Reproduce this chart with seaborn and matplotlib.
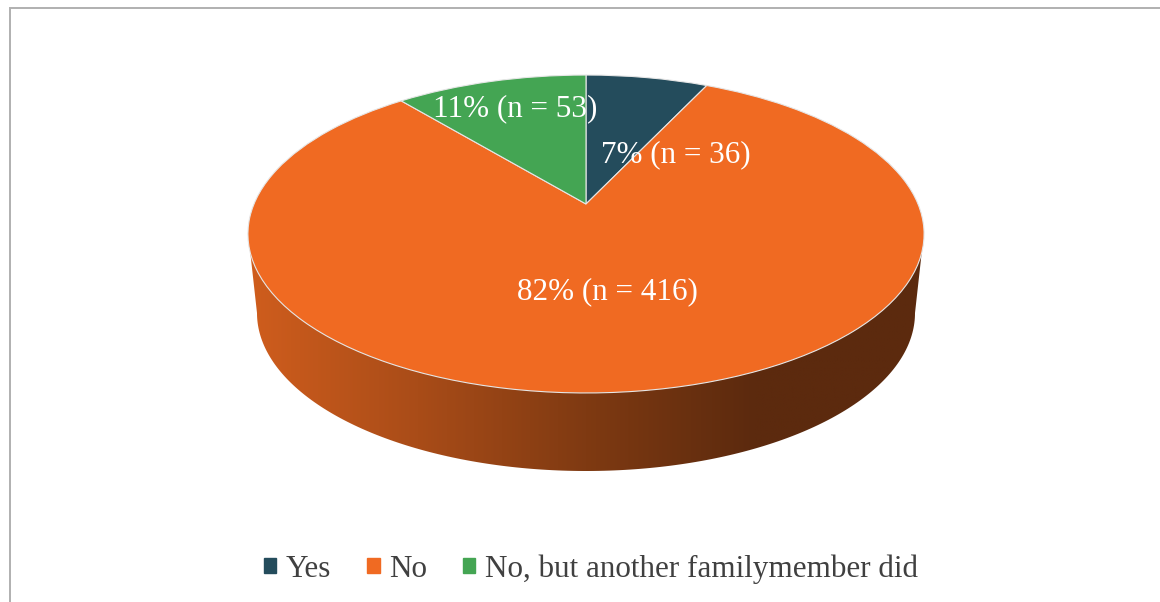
import numpy as np
import matplotlib
matplotlib.use("Agg")
import matplotlib.pyplot as plt
import matplotlib.patches as mpatches
from matplotlib.colors import LinearSegmentedColormap
from matplotlib.transforms import Transform
import seaborn as sns

categories = ["Yes", "No", "No, but another familymember did"]
counts = [36, 416, 53]
percents = [7, 82, 11]
colors = ["#244c5c", "#f06a22", "#44a553"]

sns.set_theme(style="white")
plt.rcParams["font.family"] = ["Liberation Serif", "DejaVu Serif"]


class Tilt(Transform):
    # projects the unit pie onto the tilted disc, output in image pixels
    input_dims = output_dims = 2

    def transform_non_affine(self, values):
        u, v = values[:, 0], values[:, 1]
        w = 1 + 0.1887 * v
        return np.column_stack((586 + 332 * u / w, 204 - 153.3 * v / w))


fig = plt.figure(figsize=(11.6, 6.02), dpi=100, facecolor="white")
ax = fig.add_axes([0, 0, 1, 1])

# side wall, shaded from left to right
theta = np.linspace(0, np.pi, 200)
wall = np.vstack((
    [[250, 250], [922, 250]],
    np.column_stack((586 + 329 * np.cos(theta), 313 + 158 * np.sin(theta))),
))
shade = LinearSegmentedColormap.from_list("wall", ["#cf5d1d", "#a94c18", "#7f3a12", "#5c2a0e", "#5c2a0e"])
im = ax.imshow(np.linspace(0, 1, 256)[None, :], cmap=shade, extent=(250, 922, 471, 250), aspect="auto")
im.set_clip_path(mpatches.Polygon(wall, closed=True, transform=ax.transData))

ax.pie(
    percents,
    colors=colors,
    startangle=90,
    counterclock=False,
    wedgeprops=dict(transform=Tilt() + ax.transData, edgecolor="#e6e6e6", linewidth=0.8),
)

ax.set_aspect("auto")
ax.set_xlim(0, 1160)
ax.set_ylim(602, 0)
ax.axis("off")

label_spots = [(676, 155), (607, 292), (515, 109)]
for (x, y), pct, n in zip(label_spots, percents, counts):
    ax.text(x, y, f"{pct}% (n = {n})", color="white", fontsize=22.4, ha="center", va="center")

# chart frame, only left and top show in the crop
ax.plot([9.5, 9.5, 1160], [602, 7.5, 7.5], color="#b0b0b0", linewidth=1.4, solid_joinstyle="miter")

handles = [mpatches.Patch(color=c, label=name) for c, name in zip(colors, categories)]
ax.legend(
    handles=handles,
    loc="center",
    bbox_to_anchor=(591, 569),
    bbox_transform=ax.transData,
    ncol=3,
    frameon=False,
    fontsize=22.4,
    labelcolor="#404040",
    handlelength=0.39,
    handleheight=0.39,
    handletextpad=0.3,
    columnspacing=1.17,
)

fig.savefig("out.png", dpi=100)
plt.close(fig)
